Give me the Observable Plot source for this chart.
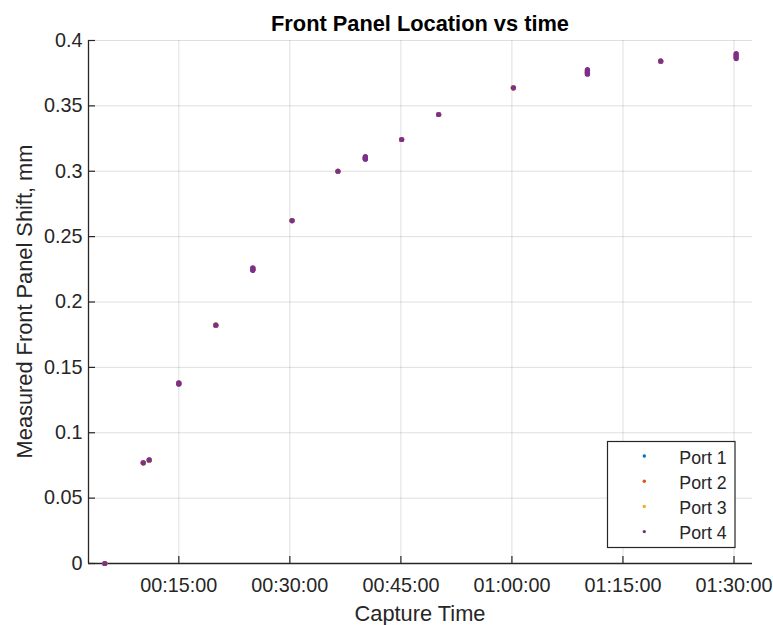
<!DOCTYPE html>
<html><head><meta charset="utf-8">
<script src="https://cdn.jsdelivr.net/npm/d3@7"></script>
<script src="https://cdn.jsdelivr.net/npm/@observablehq/plot@0.6"></script>
<style>
html,body{margin:0;padding:0;background:#fff;}
#chart{position:relative;width:773px;height:625px;}
</style></head><body><div id="chart"></div>
<script>
const titleText = "Front Panel Location vs time";
const xLabel = "Capture Time";
const yLabel = "Measured Front Panel Shift, mm";
const ports = ["Port 1", "Port 2", "Port 3", "Port 4"];
const portColors = ["#0072BD", "#D95319", "#EDB120", "#7E2F8E"];
// capture times in minutes since start (repeated where several frames were captured)
const captureMinutes = [5, 10.2, 11, 15, 15, 20, 25, 25, 25, 30.3, 36.5, 40.2, 40.2, 40.2, 45.1, 50.1, 60.2, 70.2, 70.2, 70.2, 80.1, 90.3, 90.3, 90.3];
const port1 = [0, 0.0770, 0.0790, 0.1374, 0.1378, 0.1822, 0.2245, 0.2250, 0.2255, 0.2622, 0.3000, 0.3095, 0.3100, 0.3105, 0.3243, 0.3434, 0.3638, 0.3748, 0.3758, 0.3768, 0.3842, 0.3870, 0.3880, 0.3890];
const port2 = [0, 0.0771, 0.0791, 0.1375, 0.1379, 0.1823, 0.2247, 0.2252, 0.2257, 0.2623, 0.3000, 0.3097, 0.3102, 0.3107, 0.3243, 0.3434, 0.3638, 0.3750, 0.3760, 0.3770, 0.3842, 0.3872, 0.3882, 0.3892];
const port3 = [0, 0.0770, 0.0790, 0.1376, 0.1380, 0.1823, 0.2250, 0.2254, 0.2258, 0.2623, 0.3001, 0.3100, 0.3104, 0.3108, 0.3243, 0.3434, 0.3639, 0.3752, 0.3762, 0.3772, 0.3842, 0.3875, 0.3885, 0.3895];
const port4 = [0, 0.0770, 0.0792, 0.1372, 0.1382, 0.1823, 0.2242, 0.2252, 0.2262, 0.2623, 0.3000, 0.3092, 0.3102, 0.3112, 0.3243, 0.3434, 0.3638, 0.3742, 0.3760, 0.3778, 0.3842, 0.3862, 0.3881, 0.3900];
const xDomain = [2.8, 92.5];
const xTicks = [15, 30, 45, 60, 75, 90];
const yTicks = [0, 0.05, 0.1, 0.15, 0.2, 0.25, 0.3, 0.35, 0.4];

const portValues = [port1, port2, port3, port4];
const data = [];
ports.forEach((p, i) => captureMinutes.forEach((m, j) => data.push({port: p, minutes: m, shift: portValues[i][j]})));

const fmtTime = m => {
  const h = Math.floor(m / 60), mm = Math.round(m % 60);
  return String(h).padStart(2, "0") + ":" + String(mm).padStart(2, "0") + ":00";
};
const fmtY = d => String(+d.toFixed(2));

const FONT = "'Liberation Sans', Arial, Helvetica, sans-serif";
const AX = "#262626";

const chart = Plot.plot({
  width: 773,
  height: 625,
  marginLeft: 88,
  marginRight: 21,
  marginTop: 40,
  marginBottom: 62,
  style: {fontFamily: FONT, fontSize: "19.8px", color: AX, background: "#fff", overflow: "visible"},
  x: {type: "linear", domain: xDomain},
  y: {domain: [0, 0.4]},
  color: {domain: ports, range: portColors},
  marks: [
    Plot.gridX(xTicks, {stroke: AX, strokeOpacity: 0.15, strokeWidth: 1}),
    Plot.gridY(yTicks, {stroke: AX, strokeOpacity: 0.15, strokeWidth: 1}),
    Plot.axisX(xTicks, {tickFormat: fmtTime, tickSize: -7, tickPadding: 21.4, stroke: AX, strokeWidth: 1.2, label: null, fill: AX}),
    Plot.axisY(yTicks, {tickFormat: fmtY, tickSize: -7, tickPadding: 13, stroke: AX, strokeWidth: 1.2, label: null, fill: AX}),
    Plot.ruleY([0], {stroke: AX, strokeWidth: 1.3}),
    Plot.ruleX([xDomain[0]], {stroke: AX, strokeWidth: 1.3}),
    Plot.dot(data, {x: "minutes", y: "shift", fill: "port", r: 2.6, stroke: "none"})
  ]
});

document.getElementById("chart").appendChild(chart);

// Title, axis labels and legend
const svg = d3.select(chart);
const cx = (88 + (773 - 21)) / 2;
svg.append("text").attr("x", cx).attr("y", 30.5).attr("text-anchor", "middle")
  .attr("font-family", FONT).attr("font-weight", "bold").attr("font-size", "21.8px").attr("fill", "#000")
  .text(titleText);
svg.append("text").attr("x", cx).attr("y", 621).attr("text-anchor", "middle")
  .attr("font-family", FONT).attr("font-size", "21.8px").attr("fill", AX).text(xLabel);
svg.append("text").attr("transform", `translate(32,${(40 + 563) / 2}) rotate(-90)`).attr("text-anchor", "middle")
  .attr("font-family", FONT).attr("font-size", "21.8px").attr("fill", AX).text(yLabel);

const lg = svg.append("g");
lg.append("rect").attr("x", 607.5).attr("y", 441.5).attr("width", 127.5).attr("height", 106)
  .attr("fill", "#fff").attr("stroke", AX).attr("stroke-width", 1.2);
ports.forEach((p, i) => {
  const yy = 456 + i * 25.2;
  lg.append("circle").attr("cx", 644.3).attr("cy", yy).attr("r", 1.7).attr("fill", portColors[i]);
  lg.append("text").attr("x", 679.3).attr("y", yy + 7.8).attr("text-anchor", "start")
    .attr("font-family", FONT).attr("font-size", "17.8px").attr("fill", AX).text(p);
});
</script></body></html>
